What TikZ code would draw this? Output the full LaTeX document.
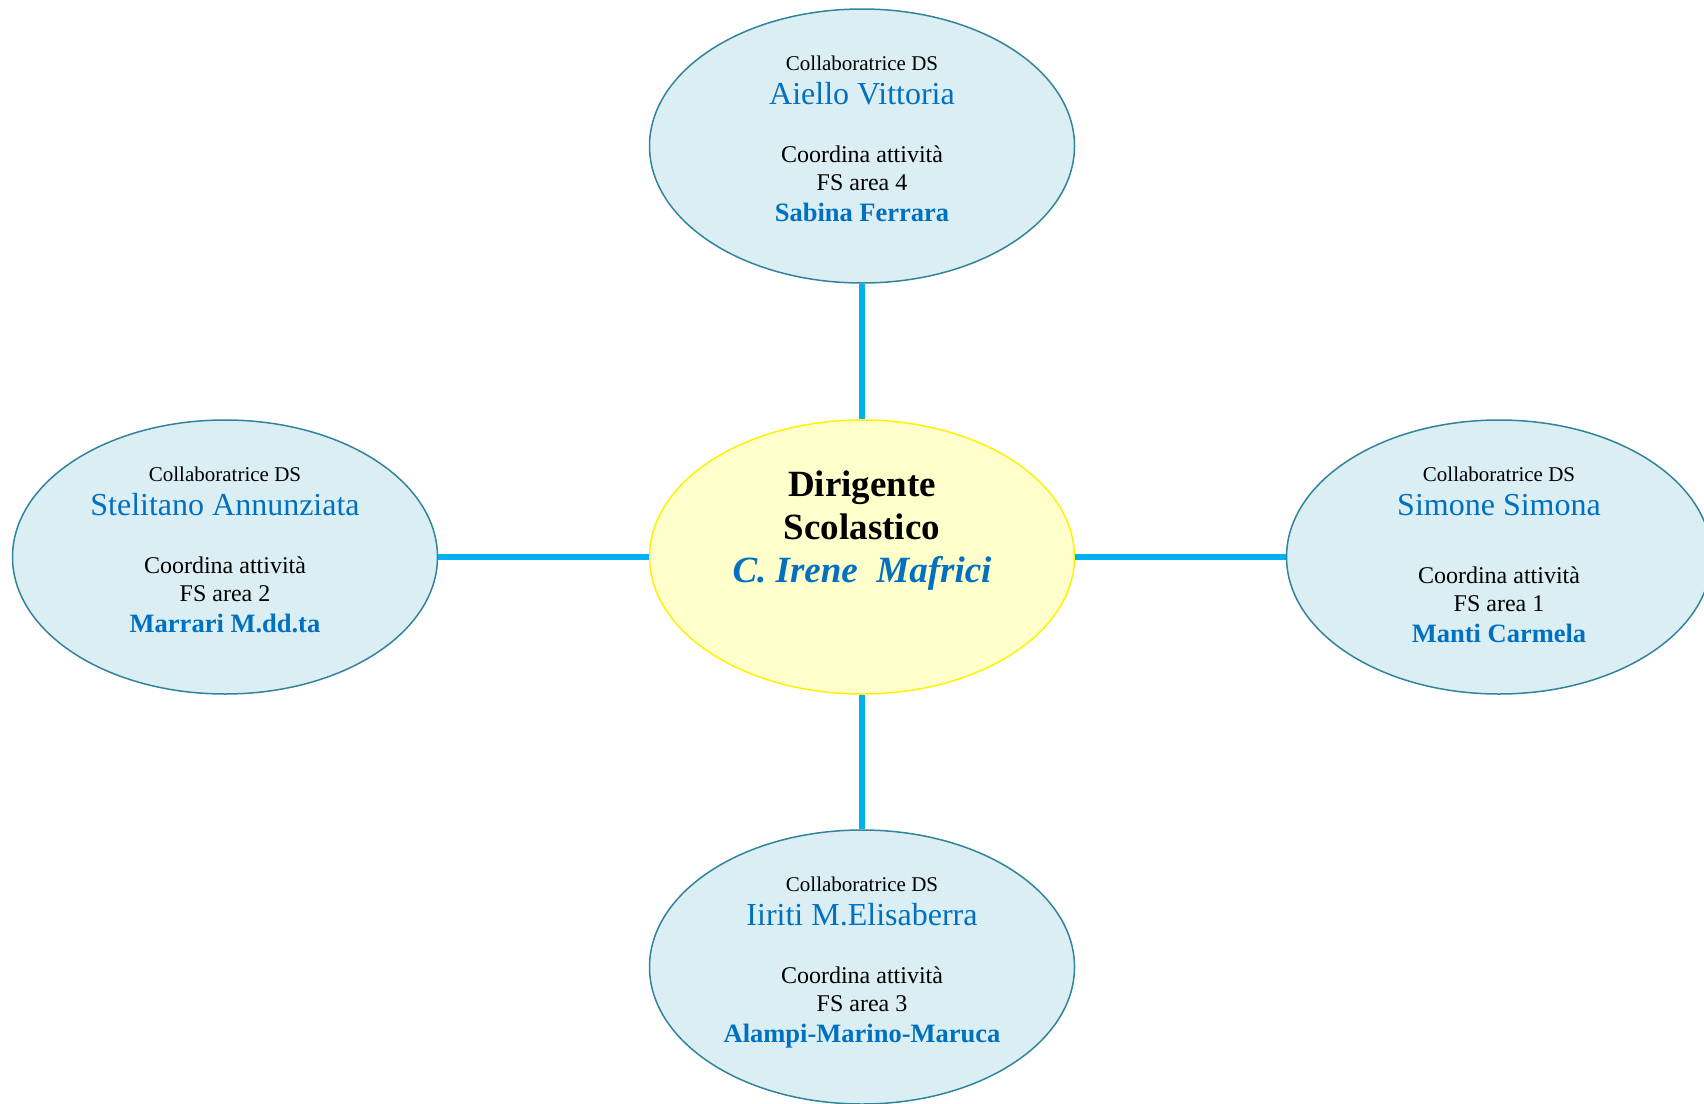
\documentclass[tikz,border=0pt]{standalone}
\usepackage{fontspec}
\setmainfont{Liberation Serif}
\usetikzlibrary{shapes.geometric, positioning}
\definecolor{nameblue}{HTML}{0070C0}
\definecolor{linkblue}{HTML}{00B0F0}
\definecolor{bubblefill}{HTML}{DAEEF3}
\definecolor{bubbleedge}{HTML}{31849B}
\definecolor{headfill}{HTML}{FFFFCC}
\tikzset{%
	every member/.style={
		ellipse,
		draw=bubbleedge,
		fill=bubblefill,
		line width=1.5pt,
		minimum width=425pt,
		minimum height=274pt
	},
	head/.style={
		ellipse,
		draw=yellow,
		fill=headfill,
		line width=1.5pt,
		minimum width=425pt,
		minimum height=274pt
	},
	link/.style={draw=linkblue, line width=6pt},
	textline/.style={anchor=base, inner sep=0pt},
}

\begin{document}
\begin{tikzpicture}[x=1pt,y=-1pt]
	\useasboundingbox (0,0) rectangle (1704,1103);
	
	% Central node
	\node[head] (ds) at (862,557) {};
	\node[textline, font=\bfseries\fontsize{37}{44}\selectfont] (ds-role) at ([yshift=61pt]ds.center) {Dirigente};
	\node[textline, font=\bfseries\fontsize{37}{44}\selectfont] (ds-school) at ([yshift=18pt]ds.center) {Scolastico};
	\node[textline, font=\bfseries\itshape\fontsize{37}{44}\selectfont, text=nameblue] (ds-name) at ([yshift=-25pt]ds.center) {C. Irene~~Mafrici};
	
	% Collaborators around it
	\foreach \nm/\x/\y/\who/\area/\fs/\dy in {%
		top/862/146/Aiello Vittoria/4/Sabina Ferrara/0,
		left/225/557/Stelitano Annunziata/2/Marrari M.dd.ta/0,
		right/1499/557/Simone Simona/1/Manti Carmela/10,
		bottom/862/967/Iiriti M.Elisaberra/3/Alampi-Marino-Maruca/0} {
		\node[every member] (\nm) at (\x,\y) {};
		\node[textline, font=\fontsize{21}{25}\selectfont] (\nm-role) at ([yshift=76pt]\nm.center) {Collaboratrice DS};
		\node[textline, font=\fontsize{32}{38}\selectfont, text=nameblue] (\nm-name) at ([yshift=42pt]\nm.center) {\who};
		\node[textline, font=\fontsize{24}{29}\selectfont] (\nm-task) at ([yshift={-(16+\dy)*1pt}]\nm.center) {Coordina attività};
		\node[textline, font=\fontsize{24}{29}\selectfont] (\nm-area) at ([yshift={-(44+\dy)*1pt}]\nm.center) {FS area \area};
		\node[textline, font=\bfseries\fontsize{26.5}{32}\selectfont, text=nameblue] (\nm-fs) at ([yshift={-(75+\dy)*1pt}]\nm.center) {\fs};
		\draw[link] (\nm) -- (ds);
	}
\end{tikzpicture}
\end{document}
